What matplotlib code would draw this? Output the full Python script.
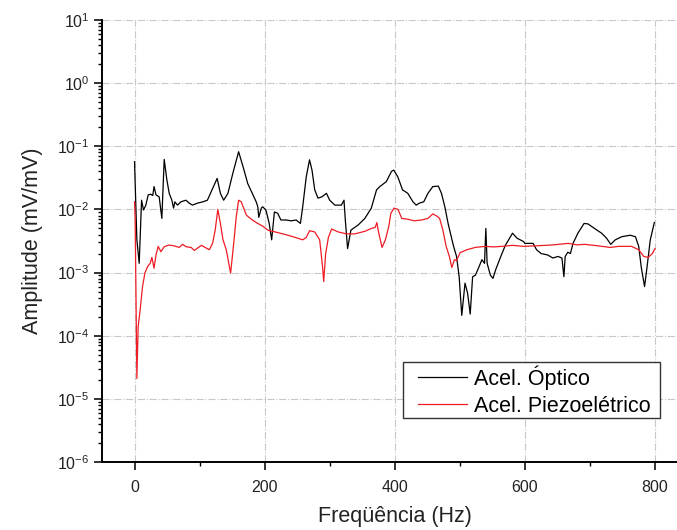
import matplotlib
matplotlib.use("Agg")
import matplotlib.pyplot as plt
from matplotlib.ticker import LogLocator, MultipleLocator, FixedLocator, NullFormatter
from matplotlib.patches import Rectangle
import numpy as np

plt.rcParams['font.family'] = ['Liberation Sans', 'DejaVu Sans']
plt.rcParams['mathtext.default'] = 'regular'

# ---- data ----
freq_optico = [0, 3.6, 7.2, 10.8, 13.8, 17.4, 21, 25, 28, 30, 33, 37.9, 42, 45.6, 49.7, 53.3,
               57.4, 60, 62, 66, 71.3, 79, 84, 89, 97, 105, 112, 120, 127, 132, 137, 143.6,
               151, 160, 166.7, 174, 182, 187, 189.5, 191, 194.9, 196.9, 202, 207, 210.8,
               215, 220, 225, 233, 240.8, 248.5, 255, 258.5, 264, 269, 272.8, 277, 282, 288,
               295, 300, 308, 318, 322, 324, 327.5, 332.6, 344, 354, 364, 372, 377, 387, 395,
               398.5, 404.6, 412, 420, 428, 433, 438, 444.6, 451, 458.5, 467, 471.8, 477,
               482, 490, 495, 499, 503, 508, 512, 516, 519.7, 524, 529, 534, 538, 540, 542,
               547, 551, 555, 563, 570, 581, 588, 598, 600, 612.6, 618, 625, 635, 643, 651,
               657, 660, 662, 666, 670, 674, 681.5, 691, 697, 707, 718, 725.6, 732, 739, 749,
               762, 770, 775, 779, 784, 787.7, 792.8, 799]
amp_optico = [0.057, 0.0033, 0.0014, 0.014, 0.0098, 0.0117, 0.017, 0.0174, 0.0166, 0.023, 0.017,
              0.0158, 0.0072, 0.062, 0.0295, 0.018, 0.014, 0.0105, 0.0132, 0.0117, 0.0132,
              0.014, 0.0126, 0.0117, 0.0126, 0.0132, 0.014, 0.0214, 0.031, 0.018, 0.014,
              0.018, 0.037, 0.082, 0.048, 0.0257, 0.017, 0.0132, 0.011, 0.0075, 0.0105,
              0.011, 0.0098, 0.006, 0.0033, 0.0091, 0.0087, 0.0068, 0.0068, 0.0066, 0.0068,
              0.006, 0.011, 0.033, 0.061, 0.042, 0.0204, 0.0151, 0.0158, 0.018, 0.014,
              0.0117, 0.0117, 0.014, 0.0068, 0.0024, 0.0047, 0.0057, 0.0072, 0.0105, 0.0204,
              0.023, 0.0275, 0.040, 0.042, 0.033, 0.0204, 0.018, 0.0132, 0.0117, 0.0126,
              0.0132, 0.018, 0.023, 0.0234, 0.018, 0.011, 0.006, 0.0027, 0.0018, 0.00086,
              0.00021, 0.00068, 0.00047, 0.00022, 0.00086, 0.00091, 0.0012, 0.0016, 0.0014,
              0.005, 0.0014, 0.00091, 0.00081, 0.0011, 0.0018, 0.0027, 0.0042, 0.0035,
              0.0031, 0.0029, 0.0029, 0.0023, 0.002, 0.0019, 0.0017, 0.0018, 0.0017, 0.00086,
              0.0018, 0.0021, 0.002, 0.0029, 0.0042, 0.006, 0.0059, 0.005, 0.0042, 0.0035,
              0.0028, 0.0033, 0.0037, 0.0039, 0.0037, 0.0026, 0.0012, 0.0006, 0.0012,
              0.0033, 0.0062]

freq_piezo = [0, 1, 3.6, 5.6, 8.7, 12.3, 15.9, 20, 24, 26.7, 30, 33, 36.4, 40.5, 45.6, 53, 61,
              68.7, 74, 79, 87, 92, 97, 103, 110, 115, 120, 124, 128, 132, 136, 141, 147.7,
              153, 156.4, 160, 164, 172, 179.5, 187, 197.5, 205, 220, 236, 251, 258.5, 264,
              269, 277, 284.6, 289, 290.8, 293.8, 298, 303, 313, 326, 338.5, 354, 364, 370,
              372.5, 375, 380.5, 385.6, 390.8, 394, 399, 405, 410.8, 420, 430, 441, 451,
              458.5, 465, 469, 474, 479, 484, 487.7, 491.8, 495, 500.5, 510.8, 523.6, 539,
              552, 565, 581, 598, 615, 641, 666.7, 679.5, 692, 713, 731, 744, 764, 775,
              782.8, 789.5, 795.9, 800]
amp_piezo = [0.0132, 0.0068, 2.1e-5, 1.4e-4, 2.6e-4, 6.0e-4, 9.8e-4, 1.24e-3, 1.4e-3, 1.74e-3,
             1.17e-3, 1.9e-3, 2.6e-3, 2.14e-3, 2.57e-3, 2.73e-3, 2.65e-3, 2.5e-3, 2.8e-3,
             2.57e-3, 2.5e-3, 2.24e-3, 2.45e-3, 2.7e-3, 2.45e-3, 2.3e-3, 2.9e-3, 4.7e-3,
             1.0e-2, 6.0e-3, 3.3e-3, 2.3e-3, 9.8e-4, 3.3e-3, 7.7e-3, 1.4e-2, 1.32e-2, 8.1e-3,
             7.0e-3, 6.2e-3, 5.4e-3, 4.7e-3, 4.3e-3, 3.9e-3, 3.5e-3, 3.3e-3, 3.6e-3, 4.6e-3,
             4.4e-3, 3.3e-3, 1.24e-3, 7.2e-4, 2.0e-3, 3.6e-3, 4.9e-3, 4.4e-3, 4.1e-3, 4.1e-3,
             4.5e-3, 5.0e-3, 5.2e-3, 6.2e-3, 4.4e-3, 2.5e-3, 3.3e-3, 5.4e-3, 8.7e-3, 1.05e-2,
             1.0e-2, 7.2e-3, 7.0e-3, 6.6e-3, 6.8e-3, 7.2e-3, 8.5e-3, 7.8e-3, 7.2e-3, 4.7e-3,
             2.6e-3, 1.8e-3, 1.2e-3, 1.6e-3, 1.55e-3, 2.07e-3, 2.3e-3, 2.5e-3, 2.6e-3,
             2.55e-3, 2.6e-3, 2.7e-3, 2.6e-3, 2.65e-3, 2.73e-3, 2.9e-3, 2.75e-3, 2.8e-3,
             2.65e-3, 2.5e-3, 2.6e-3, 2.6e-3, 2.3e-3, 1.8e-3, 1.74e-3, 2.0e-3, 2.4e-3]

label_optico = "Acel. Óptico"
label_piezo = "Acel. Piezoelétrico"
x_ticks = [0, 200, 400, 600, 800]
y_exponents = [-6, -5, -4, -3, -2, -1, 0, 1]

# ---- figure ----
W, H = 677, 530
fig = plt.figure(figsize=(W / 100, H / 100), dpi=100)
left, right, top, bottom = 102, 687.5, 20, 462
aw, ah = right - left, bottom - top
ax = fig.add_axes([left / W, (H - bottom) / H, aw / W, ah / H])

ax.plot(freq_optico, amp_optico, color='black', lw=0.9, label=label_optico)
ax.plot(freq_piezo, amp_piezo, color='#ee1c25', lw=0.9, label=label_piezo)

ax.set_yscale('log')
ax.set_xlim(-50, 850)
ax.set_ylim(1e-6, 1e1)

ax.xaxis.set_major_locator(FixedLocator(x_ticks))
ax.xaxis.set_minor_locator(MultipleLocator(100))
ax.set_xticklabels([str(t) for t in x_ticks])

ax.yaxis.set_major_locator(FixedLocator([10.0 ** e for e in y_exponents]))
ax.set_yticklabels([f"$10^{{{e}}}$" for e in y_exponents])
ax.yaxis.set_minor_locator(LogLocator(base=10, subs=np.arange(2, 10), numticks=20))
ax.yaxis.set_minor_formatter(NullFormatter())

for s in ['top', 'right']:
    ax.spines[s].set_visible(False)
for s in ['left', 'bottom']:
    ax.spines[s].set_linewidth(1.4)

ax.tick_params(axis='both', which='major', direction='out', length=6, width=1.3,
               labelsize=11.5, colors='#222222')
ax.tick_params(axis='both', which='minor', direction='out', length=3, width=1.0)
ax.tick_params(axis='y', which='major', pad=3)
ax.tick_params(axis='x', which='major', pad=7)

ax.grid(True, which='major', color='#c8c8c8', linestyle='-.', linewidth=0.8)
ax.set_axisbelow(True)

ax.set_xlabel("Freqüência (Hz)", fontsize=15.5, color='#222222', labelpad=8)
ax.set_ylabel("Amplitude (mV/mV)", fontsize=15.5, color='#222222', labelpad=10)

# legend frame (pixel box 403..660 x 362..418)
fx0, fx1, fy0, fy1 = 403, 660, 362, 418
ax.add_patch(Rectangle(((fx0 - left) / aw, (bottom - fy1) / ah), (fx1 - fx0) / aw,
                       (fy1 - fy0) / ah, transform=ax.transAxes, facecolor='white',
                       edgecolor='#333333', linewidth=1.0, zorder=4))
leg = ax.legend(loc='upper left', bbox_to_anchor=((418 - left) / aw, (bottom - 365) / ah),
                borderaxespad=0, borderpad=0, fontsize=15.5, frameon=False,
                handlelength=2.28, handletextpad=0.3, labelspacing=0.28)
leg.set_zorder(5)

fig.savefig("out.png", dpi=100)
